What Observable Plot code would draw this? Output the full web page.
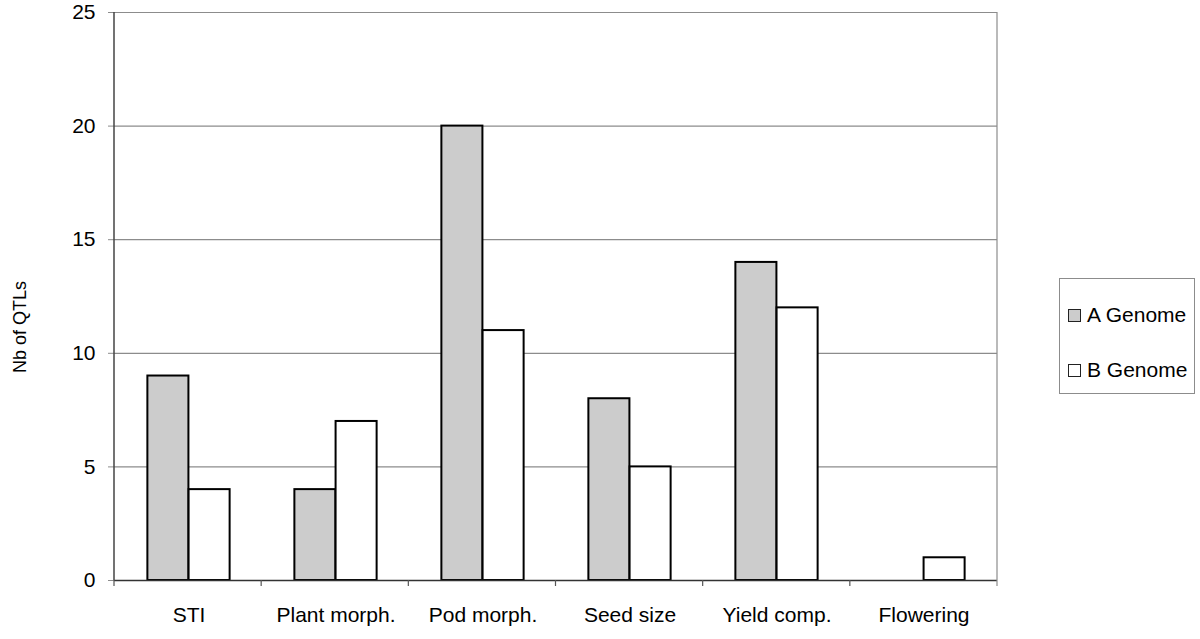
<!DOCTYPE html>
<html><head><meta charset="utf-8">
<script src="https://cdn.jsdelivr.net/npm/d3@7"></script>
<script src="https://cdn.jsdelivr.net/npm/@observablehq/plot@0.6"></script>
<style>
body{margin:0;background:#fff;font-family:"Liberation Sans",Arial,sans-serif;}
#wrap{position:relative;width:1200px;height:639px;overflow:hidden;}
#ytitle{position:absolute;left:20px;top:327px;transform:translate(-50%,-50%) rotate(-90deg);font-size:18px;white-space:nowrap;color:#000;}
#legend{position:absolute;left:1059px;top:278px;width:136px;height:116px;border:1px solid #8c8c8c;box-sizing:border-box;font-size:21px;color:#000;}
.row{position:absolute;left:8px;display:flex;align-items:center;white-space:nowrap;}
.sw{width:11px;height:11px;border:1.5px solid #222;margin-right:6px;}
</style></head><body><div id="wrap"></div>
<script>
const categories = ["STI","Plant morph.","Pod morph.","Seed size","Yield comp.","Flowering"];
const aGenome = [9,4,20,8,14,0];
const bGenome = [4,7,11,5,12,1];
const yTicks = [0,5,10,15,20,25];
const seriesNames = ["A Genome","B Genome"];
const seriesFills = ["#cccccc","#ffffff"];
const yTitle = "Nb of QTLs";

const W=1200,H=639, mL=114, mR=203, mT=12, mB=59;
const step=(W-mL-mR)/categories.length;
const table = categories.map((c,i)=>({category:c, a:aGenome[i], b:bGenome[i]}));

function frameLines(index, scales, values, dims){
  const n = categories.length;
  const x0 = dims.marginLeft, x1 = dims.width - dims.marginRight;
  const yb = dims.height - dims.marginBottom, yt = dims.marginTop;
  const xs = d3.range(n+1).map(i => x0 + i*(x1-x0)/n);
  const g = d3.create("svg:g");
  // right border
  g.append("line").attr("x1",x1).attr("x2",x1).attr("y1",yt).attr("y2",yb+6).attr("stroke","#8c8c8c").attr("stroke-width",1.2);
  // boundary ticks
  xs.slice(0,n).forEach(xx=>g.append("line").attr("x1",xx).attr("x2",xx).attr("y1",yb).attr("y2",yb+6).attr("stroke","#555").attr("stroke-width",1.2));
  // left axis line
  g.append("line").attr("x1",x0).attr("x2",x0).attr("y1",yt).attr("y2",yb).attr("stroke","#444").attr("stroke-width",1.5);
  return g.node();
}

const plot = Plot.plot({
  width:W, height:H, marginLeft:mL, marginRight:mR, marginTop:mT, marginBottom:mB,
  style:{fontFamily:'"Liberation Sans",Arial,sans-serif', fontSize:"21px", color:"#000", background:"#fff", overflow:"visible"},
  x:{type:"band", domain:categories, padding:0, axis:null},
  y:{domain:[0,25], axis:null},
  marks:[
    Plot.gridY(yTicks.filter(v=>v>0), {stroke:"#8c8c8c", strokeOpacity:1, strokeWidth:1.2}),
    Plot.barY(table.filter(d=>d.a>0), {x:"category", y:"a", fill:seriesFills[0], stroke:"#000", strokeWidth:2, insetLeft:0.22*step, insetRight:0.5*step}),
    Plot.barY(table.filter(d=>d.b>0), {x:"category", y:"b", fill:seriesFills[1], stroke:"#000", strokeWidth:2, insetLeft:0.5*step, insetRight:0.22*step}),
    Plot.axisY({ticks:yTicks, tickSize:6, tickPadding:13, stroke:"#8c8c8c", fontSize:21, label:null}),
    Plot.ruleY([0], {stroke:"#333", strokeWidth:1.5}),
    Plot.axisX({tickSize:0, tickPadding:27, fontSize:21, label:null}),
    frameLines
  ]
});
const wrap = document.getElementById("wrap");
wrap.appendChild(plot);
const yt = document.createElement("div"); yt.id="ytitle"; yt.textContent=yTitle; wrap.appendChild(yt);
const lg = document.createElement("div"); lg.id="legend";
seriesNames.forEach((s,i)=>{
  const r=document.createElement("div"); r.className="row"; r.style.top=(i===0?24:79)+"px";
  const sw=document.createElement("div"); sw.className="sw"; sw.style.background=seriesFills[i];
  const t=document.createElement("span"); t.textContent=s;
  r.appendChild(sw); r.appendChild(t); lg.appendChild(r);
});
wrap.appendChild(lg);
</script></body></html>
